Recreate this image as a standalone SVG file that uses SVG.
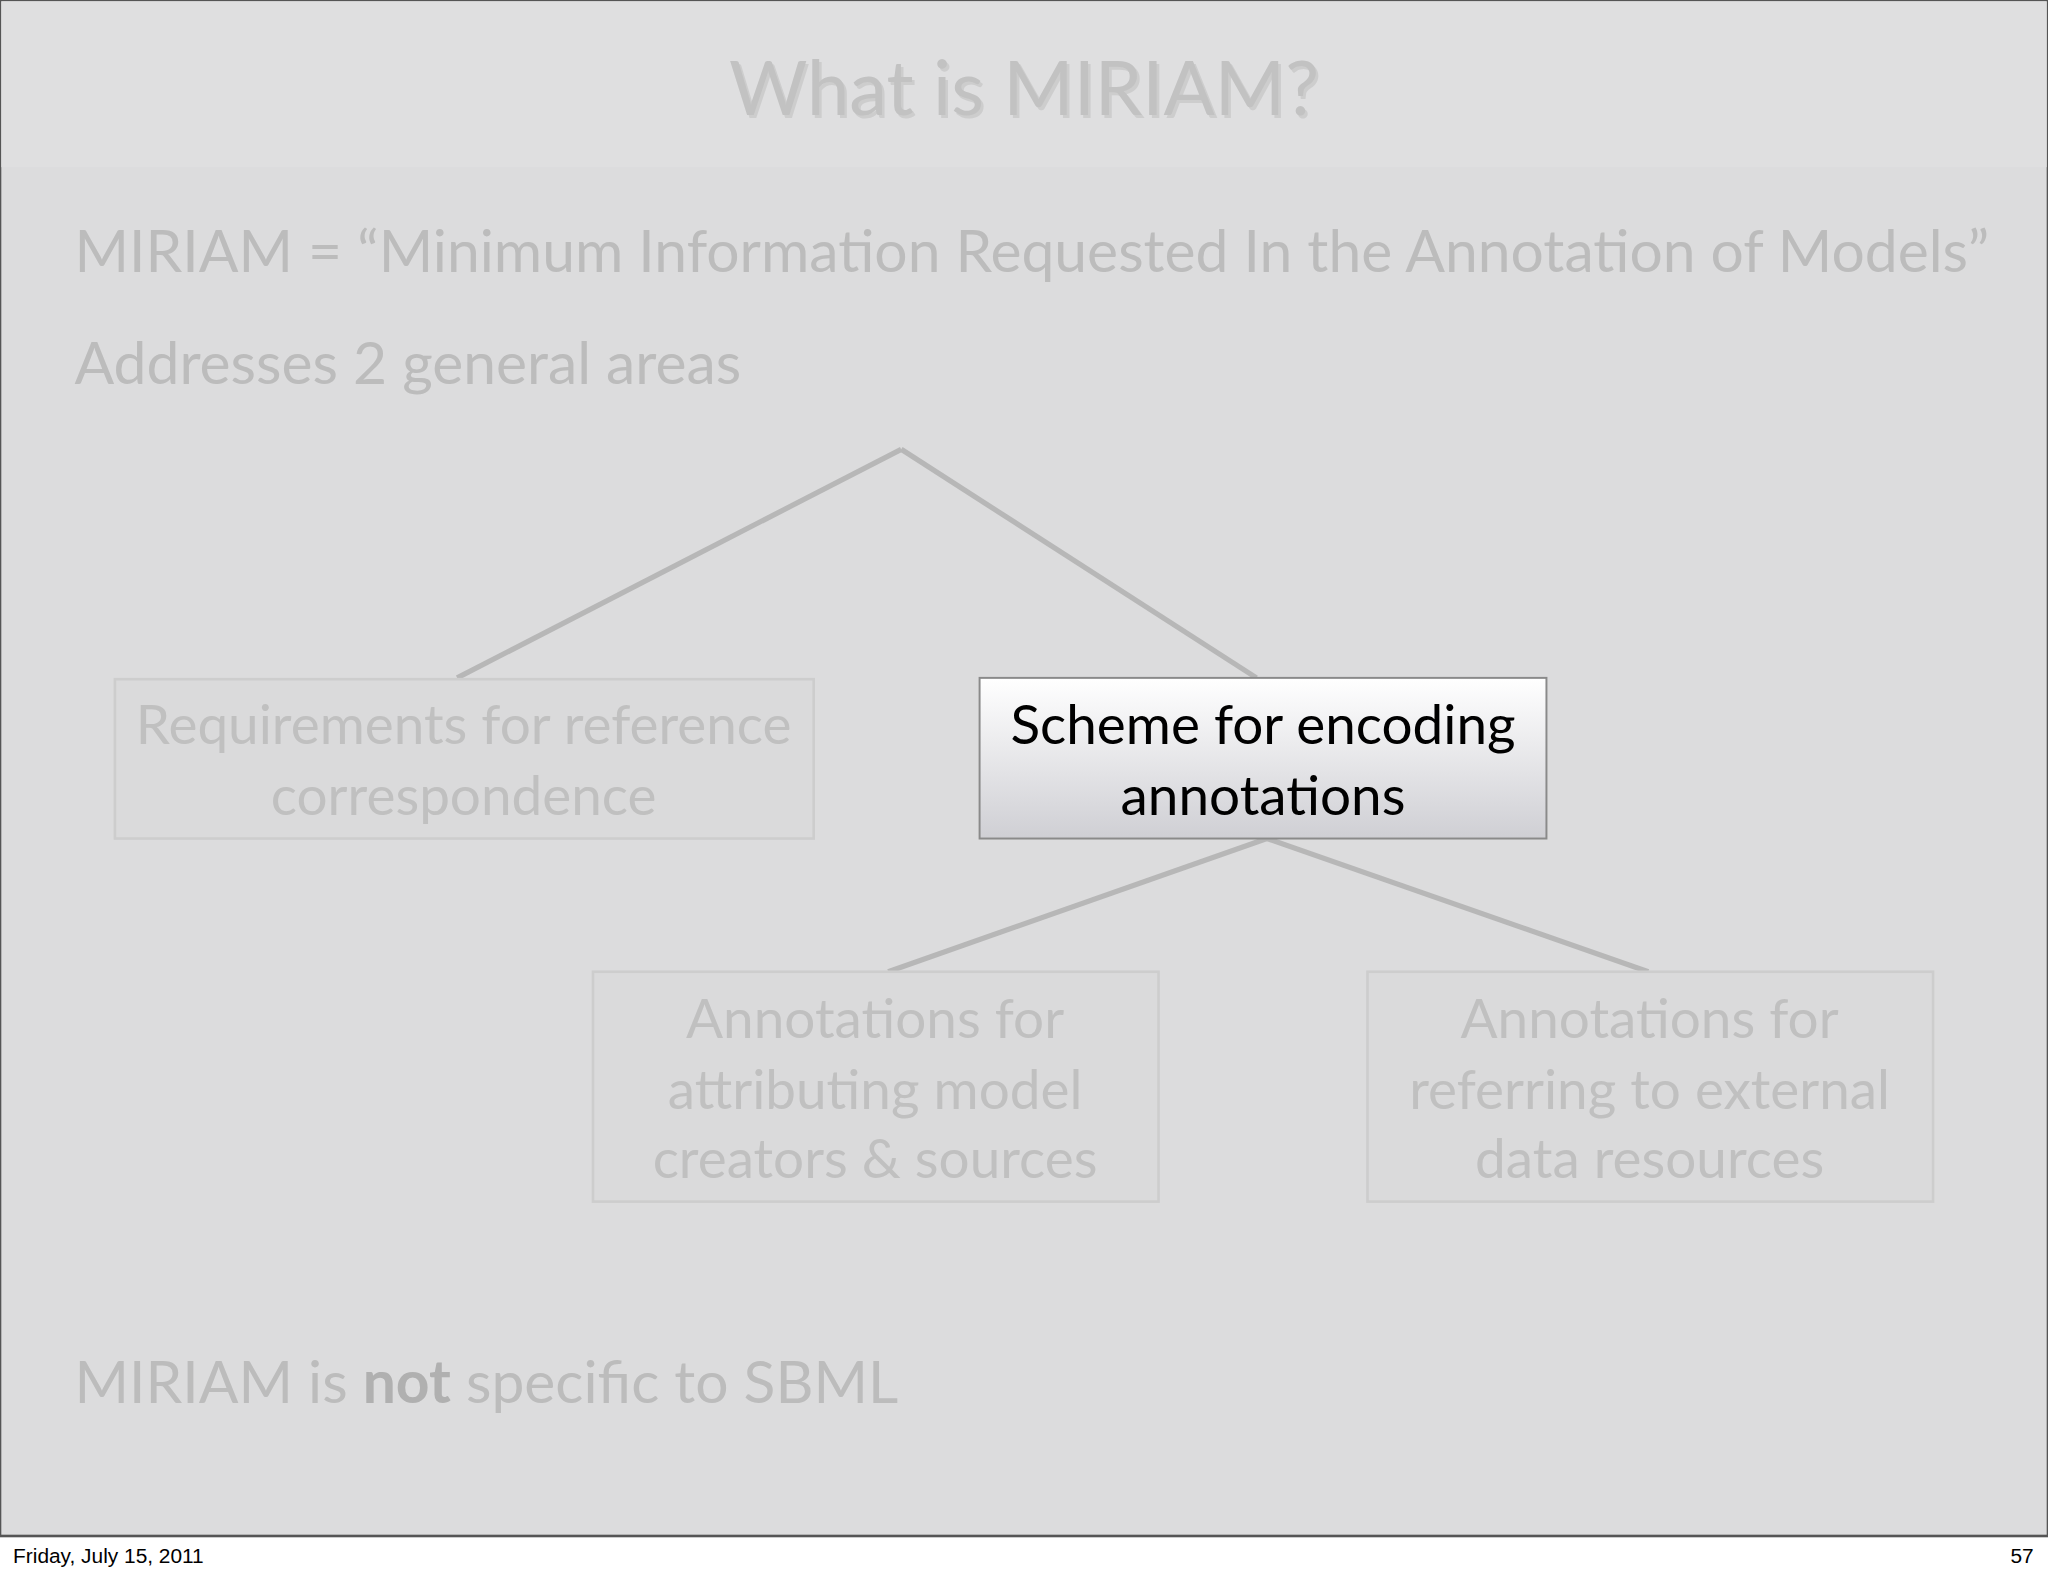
<svg xmlns="http://www.w3.org/2000/svg" width="2048" height="1576" viewBox="0 0 2048 1576">
<defs>
<linearGradient id="g" x1="0" y1="0" x2="0" y2="1"><stop offset="0" stop-color="#ffffff"/><stop offset="1" stop-color="#cfcfd4"/></linearGradient>
<style>
.t{font-family:Lato,"Open Sans",sans-serif;fill:#bcbcbc}
.b{font-family:Lato,"Open Sans",sans-serif;font-size:42px;text-anchor:middle;fill:#c0c0c0}
.fbox{fill:#dadadb;stroke:#cdcdcd;stroke-width:2}
.c{stroke:#b7b7b7;stroke-width:4;fill:none}
.f{font-family:"Liberation Sans",Arial,sans-serif;font-size:16px;fill:#000}
</style>
</defs>
<rect width="2048" height="1576" fill="#ffffff"/>
<g transform="scale(1.30612)">
<rect x="0" y="0" width="1568" height="1176" fill="#dcdcdd" stroke="#555" stroke-width="2"/>
<rect x="1" y="1" width="1566" height="127" fill="#dfdfe0"/>
<text x="786" y="90" class="t" font-size="58" text-anchor="middle" fill="#a8a8a8" opacity="0.5">What is MIRIAM?</text>
<text x="784" y="88" class="t" font-size="58" text-anchor="middle" style="fill:#c2c2c2">What is MIRIAM?</text>
<text x="57" y="208" class="t" font-size="45">MIRIAM = “Minimum Information Requested In the Annotation of Models”</text>
<text x="57" y="294" class="t" font-size="45">Addresses 2 general areas</text>
<text x="57" y="1074" class="t" font-size="45">MIRIAM is <tspan font-weight="bold" style="fill:#b0b0b0">not</tspan> specific to SBML</text>
<g id="connectors">
<line class="c" x1="690" y1="344" x2="350" y2="519"/>
<line class="c" x1="690" y1="344" x2="962" y2="519"/>
<line class="c" x1="970" y1="642" x2="680" y2="744"/>
<line class="c" x1="970" y1="642" x2="1262" y2="744"/>
</g>
<g id="n1"><rect class="fbox" x="88" y="520" width="535" height="122"/>
<text class="b" x="355" y="570">Requirements for reference</text><text class="b" x="355" y="624">correspondence</text></g>
<g id="n2"><rect x="750" y="519" width="434" height="123" fill="url(#g)" stroke="#8a8a8a" stroke-width="1.5"/>
<text class="b" x="967" y="570" style="fill:#000">Scheme for encoding</text><text class="b" x="967" y="624" style="fill:#000">annotations</text></g>
<g id="n3"><rect class="fbox" x="454" y="744" width="433" height="176"/>
<text class="b" x="670" y="795">Annotations for</text><text class="b" x="670" y="849">attributing model</text><text class="b" x="670" y="902">creators &amp; sources</text></g>
<g id="n4"><rect class="fbox" x="1047" y="744" width="433" height="176"/>
<text class="b" x="1263" y="795">Annotations for</text><text class="b" x="1263" y="849">referring to external</text><text class="b" x="1263" y="902">data resources</text></g>
<text class="f" x="10" y="1197">Friday, July 15, 2011</text>
<text class="f" x="1557" y="1197" text-anchor="end">57</text>
</g>
</svg>
